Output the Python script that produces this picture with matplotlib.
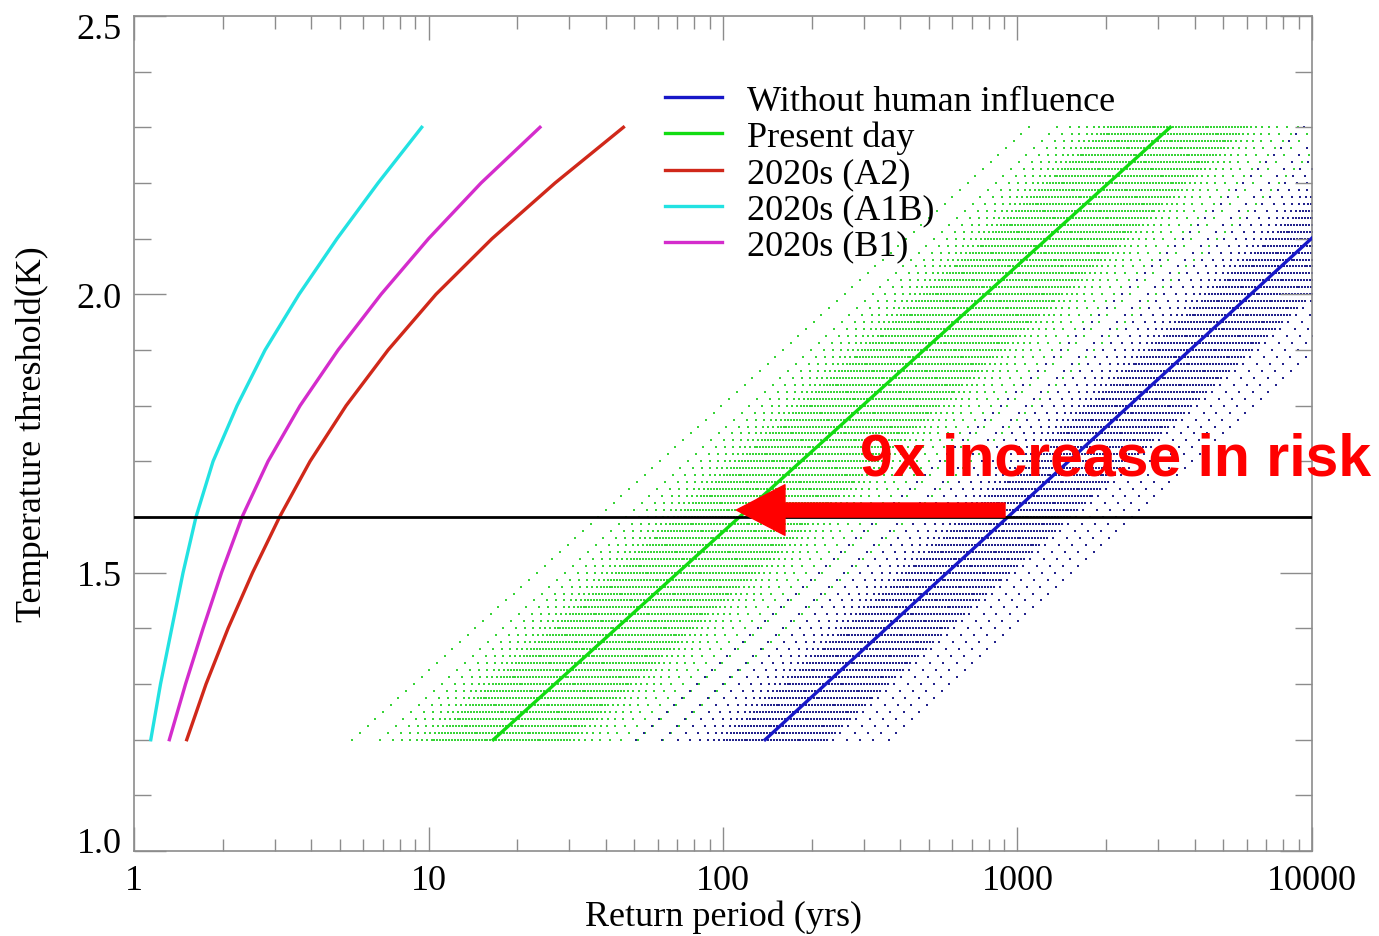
import numpy as np
import matplotlib
matplotlib.use("Agg")
import matplotlib.pyplot as plt
import matplotlib.transforms as mtransforms
from matplotlib.ticker import FixedLocator, FormatStrFormatter, NullFormatter

plt.rcParams['font.family'] = ['Liberation Serif', 'DejaVu Serif']

thresholds = [1.2, 1.3, 1.4, 1.5, 1.6, 1.7, 1.8, 1.9, 2.0, 2.1, 2.2, 2.3]
# return periods (yrs) for the projected 2020s scenarios
a2 = [1.51, 1.756, 2.086, 2.526, 3.12, 3.96, 5.25, 7.29, 10.6, 16.43, 26.9, 45.9]
a1b = [1.14, 1.23, 1.343, 1.467, 1.623, 1.855, 2.238, 2.786, 3.634, 4.89, 6.74, 9.48]
b1 = [1.318, 1.496, 1.716, 1.982, 2.327, 2.851, 3.663, 4.93, 6.90, 10.0, 15.08, 23.9]

# best-estimate straight lines (log return period vs threshold)
line_thresholds = [1.2, 2.3]
present_T = [16.6, 3300.0]
natural_T = [139.0, 25700.0]

# uncertainty lines: offsets from the best estimate, in decades of return period
present_offsets = [-0.479, -0.384, -0.340, -0.309, -0.282, -0.258, -0.241, -0.224, -0.210,
                   -0.20, -0.19, -0.18, -0.17, -0.16, -0.15, -0.14, -0.13, -0.12, -0.11, -0.10,
                   -0.09, -0.08, -0.07, -0.06, -0.05, -0.04, -0.03, -0.02, -0.01, 0.0, 0.01,
                   0.02, 0.03, 0.04, 0.05, 0.06, 0.07, 0.08, 0.09, 0.10, 0.11, 0.12, 0.13, 0.14,
                   0.15, 0.16, 0.17, 0.18, 0.19, 0.20, 0.21, 0.22, 0.23, 0.24, 0.25, 0.26,
                   0.275, 0.292, 0.312, 0.335, 0.362, 0.395, 0.435, 0.49, 0.577]
natural_offsets = [-0.437, -0.350, -0.295, -0.255, -0.221, -0.194, -0.172, -0.155,
                   -0.14, -0.13, -0.12, -0.11, -0.10, -0.09, -0.08, -0.07, -0.06, -0.05, -0.04,
                   -0.03, -0.02, -0.01, 0.0, 0.01, 0.02, 0.03, 0.04, 0.05, 0.06, 0.07, 0.08,
                   0.09, 0.10, 0.11, 0.12, 0.13, 0.14, 0.15, 0.16, 0.17, 0.18, 0.19, 0.20, 0.21,
                   0.23, 0.278, 0.322, 0.367, 0.42]
# threshold levels at which the uncertainty lines were sampled
sample_levels = np.linspace(1.2, 2.3, 89)

risk_level = 1.6
arrow_from = 907.0
arrow_to = 111.0

c_blue = '#1717c8'
c_green = '#12dc12'
c_red = '#d0281a'
c_cyan = '#22e2e2'
c_magenta = '#d42ccc'
c_axis = '#8c8c8c'
fs = 26


def spread_points(T_ends, offsets):
    centre = np.interp(sample_levels, line_thresholds, np.log10(T_ends))
    xs, ys = [], []
    for off in offsets:
        xs.append(10 ** (centre + off))
        ys.append(sample_levels)
    return np.concatenate(xs), np.concatenate(ys)


fig = plt.figure(figsize=(13.79, 9.37), dpi=100)
ax = fig.add_axes([0.0972, 0.0907, 0.8542, 0.8912])

# uncertainty dots
x, y = spread_points(present_T, present_offsets)
ax.scatter(x, y, s=3.0, marker='s', color='#38d438', linewidths=0, zorder=1)
x, y = spread_points(natural_T, natural_offsets)
ax.scatter(x, y, s=3.0, marker='s', color='#22228c', linewidths=0, zorder=1)

# best estimates and scenarios
ax.plot(natural_T, line_thresholds, color=c_blue, lw=2.4, label='Without human influence', zorder=3)
ax.plot(present_T, line_thresholds, color=c_green, lw=2.4, label='Present day', zorder=3)
ax.plot(a2, thresholds, color=c_red, lw=2.4, label='2020s (A2)', zorder=3)
ax.plot(a1b, thresholds, color=c_cyan, lw=2.4, label='2020s (A1B)', zorder=3)
ax.plot(b1, thresholds, color=c_magenta, lw=2.4, label='2020s (B1)', zorder=3)

ax.axhline(risk_level, color='black', lw=2.0, zorder=4)

ax.set_xscale('log')
ax.set_xlim(1, 10000)
ax.set_ylim(1.0, 2.5)

ax.xaxis.set_major_locator(FixedLocator([1, 10, 100, 1000, 10000]))
ax.set_xticklabels(['1', '10', '100', '1000', '10000'])
ax.xaxis.set_minor_locator(FixedLocator([m * 10 ** d for d in range(4) for m in range(2, 10)]))
ax.xaxis.set_minor_formatter(NullFormatter())
ax.yaxis.set_major_locator(FixedLocator([1.0, 1.5, 2.0, 2.5]))
ax.yaxis.set_minor_locator(FixedLocator([1.1, 1.2, 1.3, 1.4, 1.6, 1.7, 1.8, 1.9, 2.1, 2.2, 2.3, 2.4]))
ax.yaxis.set_major_formatter(FormatStrFormatter('%.1f'))

ax.tick_params(which='both', direction='in', top=True, right=True, color=c_axis, labelsize=fs, width=1)
ax.tick_params(axis='x', which='major', length=17, pad=9)
ax.tick_params(axis='x', which='minor', length=9)
ax.tick_params(axis='y', which='major', length=23, pad=9)
ax.tick_params(axis='y', which='minor', length=12)
for sp in ax.spines.values():
    sp.set_color(c_axis)
    sp.set_linewidth(1.2)

# end labels of the y axis sit inside the frame, as in the original
yticks = ax.yaxis.get_major_ticks()
yticks[0].label1.set_transform(yticks[0].label1.get_transform() +
                               mtransforms.ScaledTranslation(0, 0.12, fig.dpi_scale_trans))
yticks[-1].label1.set_transform(yticks[-1].label1.get_transform() +
                                mtransforms.ScaledTranslation(0, -0.10, fig.dpi_scale_trans))

ax.set_xlabel('Return period (yrs)', fontsize=fs, labelpad=2)
ax.set_ylabel('Temperature threshold(K)', fontsize=fs, labelpad=20)

leg = ax.legend(loc='upper left', bbox_to_anchor=(0.4508, 0.918), frameon=False, fontsize=fs,
                handlelength=1.58, handletextpad=0.69, labelspacing=0.08, borderpad=0, borderaxespad=0)

ax.annotate('', xy=(arrow_to, 1.6125), xytext=(arrow_from, 1.6125),
            arrowprops=dict(arrowstyle='simple,head_length=0.5,head_width=0.52,tail_width=0.145',
                            color='#ff0000', mutation_scale=70, shrinkA=0, shrinkB=0), zorder=6)
ax.text(0.6165, 0.451, '9x increase in risk', transform=ax.transAxes, color='#ff0000',
        fontsize=42.5, fontweight='bold', family=['Liberation Sans', 'DejaVu Sans'],
        ha='left', va='baseline', zorder=7, clip_on=False)

fig.savefig('out.png', dpi=100)
